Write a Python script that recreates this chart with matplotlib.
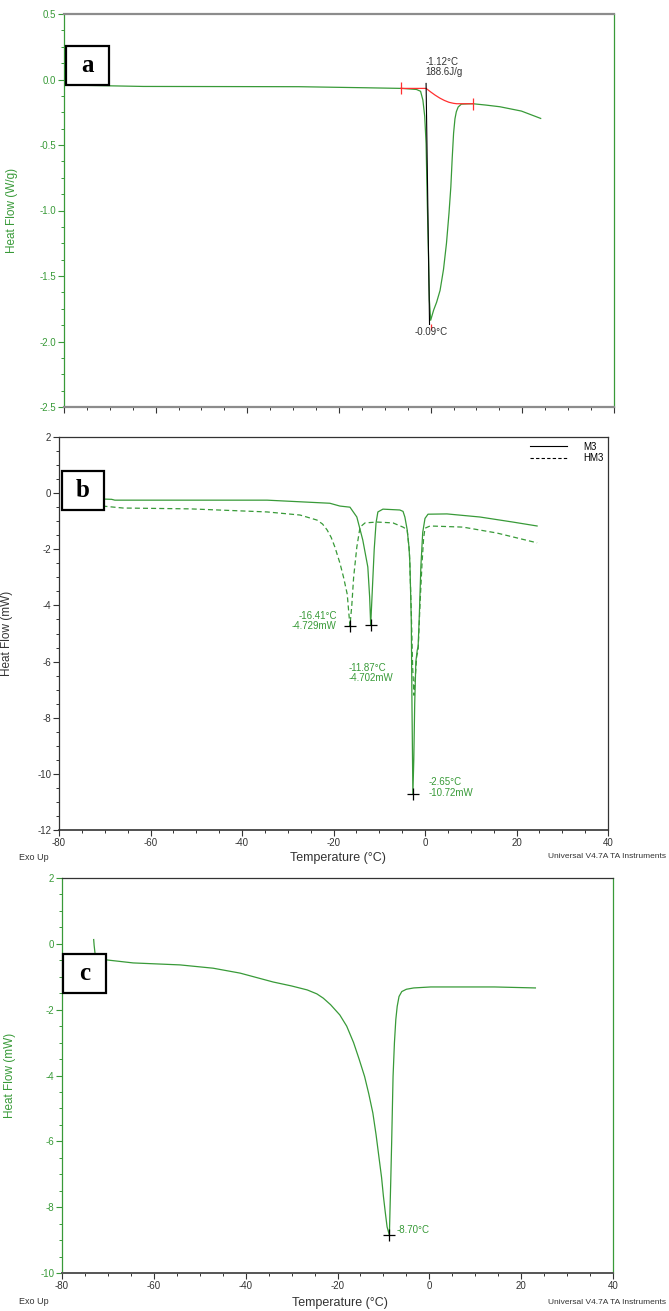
import matplotlib
matplotlib.use("Agg")
import matplotlib.pyplot as plt
from matplotlib.lines import Line2D
from matplotlib.patches import Rectangle
from matplotlib.ticker import MultipleLocator, FormatStrFormatter

plt.rcParams["font.family"] = ["Liberation Sans", "DejaVu Sans"]
plt.rcParams["axes.unicode_minus"] = False

GREEN = "#389a38"
DARK = "#333333"
GRAY = "#8c8c8c"
RED = "#ff3030"

# ---- panel a: W/g ----
a_temp = [-80, -75, -62.7, -45, -28.7, -14.3, -6.3, -3.1, -2.2, -1.7, -1.3, -1.0,
          -0.75, -0.5, -0.28, 0.0, 0.65, 1.3, 2.05, 2.8, 3.45, 4.0, 4.4, 4.7, 5.0,
          5.3, 5.6, 6.0, 6.7, 8.0, 9.2, 12.0, 15.1, 19.8, 24.0]
a_flow = [-0.045, -0.045, -0.053, -0.054, -0.055, -0.063, -0.068, -0.076, -0.09,
          -0.157, -0.28, -0.488, -0.92, -1.3, -1.685, -1.838, -1.76, -1.70, -1.61,
          -1.45, -1.25, -1.02, -0.82, -0.6, -0.41, -0.3, -0.246, -0.21, -0.188,
          -0.186, -0.185, -0.195, -0.208, -0.241, -0.297]
a_base_temp = [-6.5, -4.0, -2.0, -1.0, 0.0, 1.0, 2.0, 3.0, 4.0, 5.0, 5.7, 7.0, 9.2]
a_base_flow = [-0.068, -0.068, -0.068, -0.068, -0.095, -0.12, -0.142, -0.16,
               -0.174, -0.182, -0.185, -0.185, -0.185]
a_limit_temp = [-6.5, 9.2]
a_limit_flow = [-0.068, -0.185]
a_onset_temp = [-1.0, -0.25]
a_onset_flow = [-0.03, -1.87]
a_peak = (0.0, -1.89)

# ---- panel b: mW, M3 (solid) and HM3 (dashed) ----
b_m3_temp = [-70.5, -68.5, -67.8, -50, -34.5, -25.8, -20.8, -18.6, -16.4, -14.9,
             -13.6, -12.5, -12.1, -11.87, -11.5, -11.1, -10.7, -10.3, -9.2, -5.5,
             -4.8, -4.4, -3.9, -3.5, -3.3, -3.0, -2.85, -2.65, -2.45, -2.25, -2.0,
             -1.7, -1.5, -1.25, -0.9, -0.5, 0.0, 0.66, 4.8, 12.0, 19.2, 24.5]
b_m3_flow = [-0.21, -0.22, -0.25, -0.25, -0.25, -0.32, -0.36, -0.46, -0.50, -0.85,
             -1.67, -2.63, -3.7, -4.702, -3.4, -2.0, -1.06, -0.67, -0.57, -0.60,
             -0.65, -0.85, -1.3, -1.92, -2.5, -4.5, -7.5, -10.72, -9.5, -7.5, -6.0,
             -5.6, -5.45, -4.4, -2.6, -1.4, -0.9, -0.75, -0.74, -0.85, -1.03, -1.17]
b_hm3_temp = [-70.5, -66, -51.4, -34.5, -27.3, -23.6, -22.4, -21.4, -20.5, -19.7,
              -18.6, -17.8, -17.0, -16.41, -16.0, -15.6, -14.9, -14.2, -13.1,
              -10.5, -7.0, -4.8, -3.9, -3.4, -3.0, -2.7, -2.4, -2.1, -1.8, -1.5,
              -1.1, -0.65, -0.3, 0.0, 1.1, 8.3, 15.7, 24.5]
b_hm3_flow = [-0.46, -0.53, -0.56, -0.67, -0.78, -0.96, -1.1, -1.31, -1.58, -1.92,
              -2.49, -3.0, -3.6, -4.729, -4.0, -3.0, -1.92, -1.21, -1.06, -1.03,
              -1.06, -1.21, -1.3, -2.1, -4.2, -6.2, -7.2, -6.5, -5.8, -5.6, -4.0,
              -2.5, -1.6, -1.25, -1.17, -1.21, -1.42, -1.77]
b_peak_temp = [-16.41, -11.87, -2.65]
b_peak_flow = [-4.729, -4.702, -10.72]

# ---- panel c: mW ----
c_temp = [-73.1, -73.0, -72.8, -72.5, -70.2, -64.5, -54.3, -47.1, -41.2, -34.0,
          -30.0, -26.6, -24.5, -23.1, -21.5, -19.5, -18.0, -16.5, -15.3, -14.1,
          -13.2, -12.3, -11.6, -10.9, -10.4, -10.0, -9.6, -9.2, -8.7, -8.55, -8.4,
          -8.2, -7.9, -7.6, -7.3, -7.0, -6.6, -6.0, -5.0, -3.4, 0.3, 8.7, 14.2,
          23.1]
c_flow = [0.13, -0.05, -0.3, -0.45, -0.49, -0.58, -0.64, -0.74, -0.89, -1.16,
          -1.28, -1.40, -1.52, -1.65, -1.85, -2.16, -2.5, -3.0, -3.5, -4.03,
          -4.55, -5.14, -5.8, -6.56, -7.1, -7.67, -8.15, -8.6, -8.85, -8.0, -7.2,
          -6.0, -4.03, -3.0, -2.3, -1.9, -1.6, -1.45, -1.38, -1.34, -1.31, -1.31,
          -1.31, -1.34]
c_peak = (-8.70, -8.85)

FIG_W, FIG_H = 669, 1311


def px_axes(fig, left, top, right, bottom):
    return fig.add_axes([left / FIG_W, 1 - bottom / FIG_H,
                         (right - left) / FIG_W, (bottom - top) / FIG_H])


def style(ax, ylim, ymajor, yminor, side_color, top_color, bottom_color,
          label_color, fmt, xlabels=True, top_lw=0.9, bottom_lw=1.2):
    ax.set_xlim(-80, 40)
    ax.set_ylim(*ylim)
    ax.xaxis.set_major_locator(MultipleLocator(20))
    ax.xaxis.set_minor_locator(MultipleLocator(5))
    ax.yaxis.set_major_locator(MultipleLocator(ymajor))
    ax.yaxis.set_minor_locator(MultipleLocator(yminor))
    ax.yaxis.set_major_formatter(FormatStrFormatter(fmt))
    ax.tick_params(axis="both", which="major", direction="out", length=4,
                   width=0.8, labelsize=7, pad=1.5)
    ax.tick_params(axis="both", which="minor", direction="out", length=2.5,
                   width=0.7)
    ax.tick_params(axis="y", which="both", colors=side_color,
                   labelcolor=label_color)
    ax.tick_params(axis="x", which="both", colors=DARK, labelcolor=DARK)
    if not xlabels:
        ax.tick_params(axis="x", labelbottom=False)
    ax.spines["left"].set_color(side_color)
    ax.spines["right"].set_color(side_color)
    ax.spines["left"].set_linewidth(0.9)
    ax.spines["right"].set_linewidth(0.9)
    ax.spines["top"].set_color(top_color)
    ax.spines["top"].set_linewidth(top_lw)
    ax.spines["bottom"].set_color(bottom_color)
    ax.spines["bottom"].set_linewidth(bottom_lw)


def tag(ax, letter, x0, x1, y0, y1):
    ax.add_patch(Rectangle((x0, y0), x1 - x0, y1 - y0, transform=ax.transAxes,
                           facecolor="white", edgecolor="black", linewidth=1.6,
                           zorder=5, clip_on=False))
    ax.text((x0 + x1) / 2, (y0 + y1) / 2, letter, transform=ax.transAxes,
            ha="center", va="center", fontsize=18, fontweight="bold",
            family=["Liberation Serif", "DejaVu Serif"], zorder=6)


fig = plt.figure(figsize=(FIG_W / 100, FIG_H / 100), dpi=100)

# ---------------- a ----------------
ax = px_axes(fig, 64, 14, 614, 407)
style(ax, (-2.5, 0.5), 0.5, 0.125, GREEN, GRAY, GRAY, GREEN, "%.1f",
      xlabels=False, top_lw=1.6, bottom_lw=1.6)
ax.plot(a_temp, a_flow, color=GREEN, lw=0.9)
ax.plot(a_base_temp, a_base_flow, color=RED, lw=0.9)
ax.plot(a_limit_temp, a_limit_flow, ls="none", marker="|", ms=9, mew=0.9,
        color=RED)
ax.plot([a_peak[0]], [a_peak[1]], ls="none", marker="|", ms=5, mew=0.9,
        color=RED)
ax.plot(a_onset_temp, a_onset_flow, color="black", lw=0.8)
ax.text(-1.2, 0.095, "-1.12°C\n188.6J/g", fontsize=7, color=DARK,
        ha="left", va="center", linespacing=1.05)
ax.text(0.1, -1.93, "-0.09°C", fontsize=7, color=DARK, ha="center", va="center")
ax.set_ylabel("Heat Flow (W/g)", color=GREEN, fontsize=8.5)
ax.yaxis.set_label_coords(-0.084, 0.5)
tag(ax, "a", 0.004, 0.082, 0.819, 0.919)

# ---------------- b ----------------
ax = px_axes(fig, 59, 437, 608, 830)
style(ax, (-12, 2), 2, 0.5, DARK, DARK, DARK, DARK, "%d",
      top_lw=0.9, bottom_lw=1.2)
ax.plot(b_m3_temp, b_m3_flow, color=GREEN, lw=0.9)
ax.plot(b_hm3_temp, b_hm3_flow, color=GREEN, lw=0.9, dashes=(4, 2.5))
ax.plot(b_peak_temp, b_peak_flow, ls="none", marker="+", ms=9, mew=0.9,
        color="black")
ax.text(-19.3, -4.55, "-16.41°C\n-4.729mW", fontsize=7, color=GREEN,
        ha="right", va="center", linespacing=1.05)
ax.text(-16.7, -6.4, "-11.87°C\n-4.702mW", fontsize=7, color=GREEN,
        ha="left", va="center", linespacing=1.05)
ax.text(0.8, -10.48, "-2.65°C\n-10.72mW", fontsize=7, color=GREEN,
        ha="left", va="center", linespacing=1.05)
handles = [Line2D([], [], color="black", lw=0.8),
           Line2D([], [], color="black", lw=0.8, dashes=(3, 2))]
ax.legend(handles, ["M3", "HM3"], loc="upper right", frameon=False, fontsize=7,
          handlelength=3.8, handletextpad=1.6, labelspacing=0.15,
          borderaxespad=0.2, borderpad=0.3)
ax.set_ylabel("Heat Flow (mW)", color=DARK, fontsize=8.5)
ax.yaxis.set_label_coords(-0.084, 0.5)
tag(ax, "b", 0.005, 0.082, 0.814, 0.913)
fig.text(19 / FIG_W, 1 - 857 / FIG_H, "Exo Up", fontsize=6.5, color=DARK,
         ha="left", va="center")
fig.text(338 / FIG_W, 1 - 858 / FIG_H, "Temperature (°C)", fontsize=9,
         color=DARK, ha="center", va="center")
fig.text(666 / FIG_W, 1 - 857 / FIG_H, "Universal V4.7A TA Instruments",
         fontsize=6, color=DARK, ha="right", va="center")

# ---------------- c ----------------
ax = px_axes(fig, 62, 878, 613, 1273)
style(ax, (-10, 2), 2, 0.5, GREEN, DARK, "#555555", GREEN, "%d",
      top_lw=0.9, bottom_lw=1.4)
ax.plot(c_temp, c_flow, color=GREEN, lw=0.9)
ax.plot([c_peak[0]], [c_peak[1]], ls="none", marker="+", ms=9, mew=0.9,
        color="black")
ax.text(-7.2, -8.69, "-8.70°C", fontsize=7, color=GREEN, ha="left",
        va="center")
ax.set_ylabel("Heat Flow (mW)", color=GREEN, fontsize=8.5)
ax.yaxis.set_label_coords(-0.083, 0.5)
tag(ax, "c", 0.002, 0.080, 0.709, 0.808)
fig.text(19 / FIG_W, 1 - 1302 / FIG_H, "Exo Up", fontsize=6.5, color=DARK,
         ha="left", va="center")
fig.text(340 / FIG_W, 1 - 1303 / FIG_H, "Temperature (°C)", fontsize=9,
         color=DARK, ha="center", va="center")
fig.text(666 / FIG_W, 1 - 1302 / FIG_H, "Universal V4.7A TA Instruments",
         fontsize=6, color=DARK, ha="right", va="center")

fig.savefig("out.png", dpi=100)
plt.close(fig)
